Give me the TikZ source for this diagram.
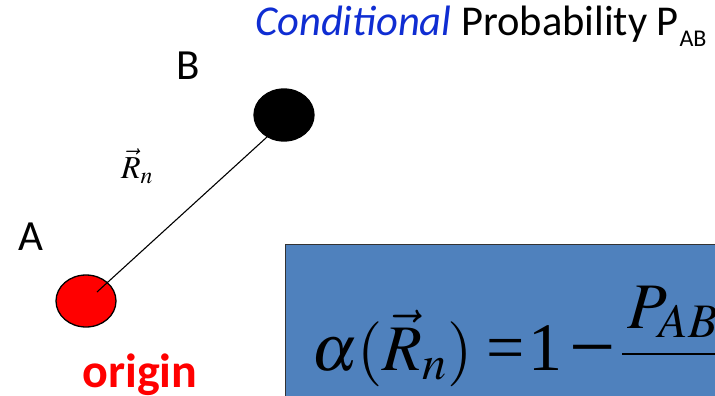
\documentclass[tikz,border=0pt]{standalone}
\usepackage{mathptmx}
\usepackage{fontspec}
\setmainfont{Carlito}
\newfontfamily\tnr{Liberation Serif}
\usetikzlibrary{shapes.geometric}
\definecolor{condblue}{RGB}{15,45,210}
\definecolor{boxblue}{RGB}{79,129,189}
\definecolor{redfill}{RGB}{255,0,0}
\begin{document}
\begin{tikzpicture}[x=1pt,y=-1pt,
  lbl/.style={inner sep=0pt,font=\fontsize{43}{50}\selectfont},
  dot/.style={ellipse,draw=black,line width=1.3pt,minimum width=60pt,minimum height=52pt,inner sep=0pt},
  eq/.style={anchor=base west,inner sep=0pt,font=\fontsize{65}{78}\selectfont},
  eqt/.style={anchor=base west,inner sep=0pt,font=\fontsize{68}{78}\selectfont\tnr},
]
\useasboundingbox (0,0) rectangle (715,396);
\clip (0,0) rectangle (715,396);
% title
\node[anchor=base west,inner sep=0pt,font=\fontsize{42.5}{50}\selectfont] (title) at (255,36)
  {\textcolor{condblue}{\itshape Conditional} Probability P\kern0.5pt\raisebox{-0.24em}{\fontsize{24}{28}\selectfont AB}};
% labels
\node[lbl] (labB) at (188,66) {B};
\node[lbl] (labA) at (31,237) {A};
\node[inner sep=0pt,font=\fontsize{48}{56}\selectfont\bfseries,text=redfill,anchor=base] (orig) at (140,387) {origin};
\node[inner sep=0pt,font=\fontsize{32}{38}\selectfont] (rn) at (137,166) {$\vec{R}_n$};
% ellipses
\node[dot,fill=redfill] (ellA) at (86,301) {};
\coordinate (s) at (97,292);
\coordinate (e) at (267,137);
\draw[line width=1.1pt] (s) -- (e);
\node[dot,fill=black] (ellB) at (284,115) {};
% box
\node[draw=black!80,line width=1.3pt,fill=boxblue,anchor=north west,minimum width=450pt,minimum height=200pt,inner sep=0pt] (box) at (285,244) {};
\node[eq] (f1) at (311,370) {$\alpha(\vec{R}_n)$};
\node[eqt] (f2) at (486,370) {=};
\node[eqt] (f3) at (528,370) {1};
\node[eqt,font=\fontsize{82}{90}\selectfont\tnr] (f4) at (569,374) {−};
\node[eq] (f5) at (627,328) {$P_{AB}$};
\coordinate (b1) at (622,354);
\coordinate (b2) at (720,354);
\draw[line width=2.2pt] (b1) -- (b2);
\end{tikzpicture}
\end{document}
